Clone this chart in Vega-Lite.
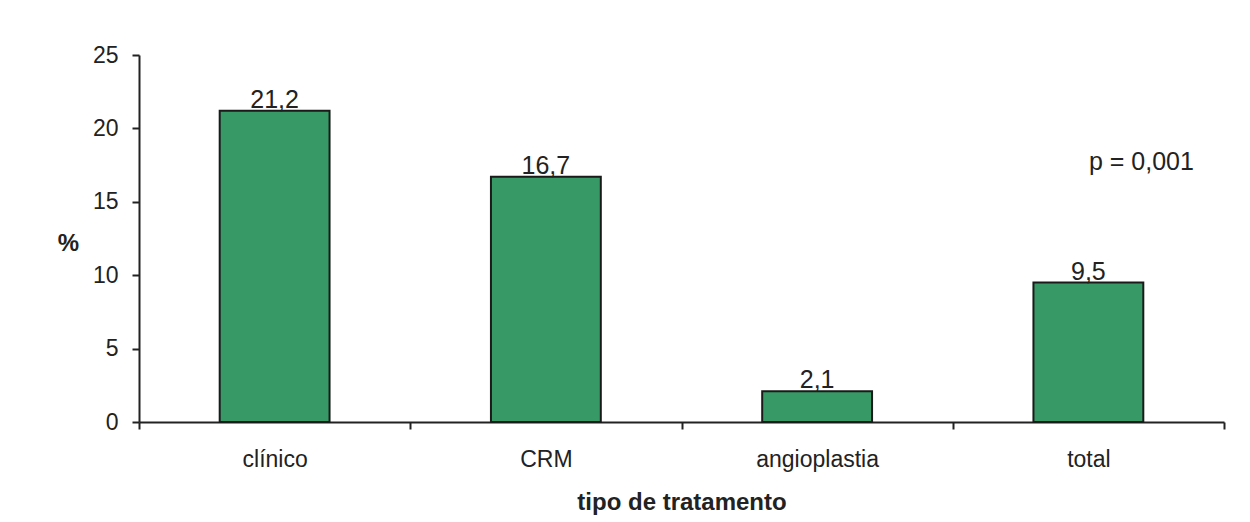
{
  "$schema": "https://vega.github.io/schema/vega-lite/v6.json",
  "autosize": "none",
  "width": 1085,
  "height": 367,
  "padding": {"left": 139, "top": 55, "right": 26, "bottom": 100},
  "background": "white",
  "config": {
    "view": {"stroke": null},
    "font": "Liberation Sans",
    "locale": {"number": {"decimal": ",", "thousands": ".", "grouping": [3], "currency": ["", ""]}}
  },
  "data": {"values": [
    {"tipo": "clínico", "pct": 21.2},
    {"tipo": "CRM", "pct": 16.7},
    {"tipo": "angioplastia", "pct": 2.1},
    {"tipo": "total", "pct": 9.5}
  ]},
  "encoding": {
    "x": {
      "field": "tipo", "type": "nominal", "sort": null,
      "scale": {"paddingInner": 0, "paddingOuter": 0},
      "axis": {
        "title": "tipo de tratamento",
        "labelAngle": 0,
        "labelFontSize": 23,
        "labelColor": "#222",
        "labelPadding": 19,
        "tickBand": "extent",
        "tickSize": 7,
        "tickWidth": 2,
        "tickColor": "#222",
        "domainColor": "#222",
        "domainWidth": 2,
        "titleFontSize": 24,
        "titleFontWeight": "bold",
        "titleColor": "#222",
        "titlePadding": 19,
        "grid": false
      }
    }
  },
  "layer": [
    {
      "mark": {"type": "bar", "fill": "#379a66", "stroke": "#1a1a1a", "strokeWidth": 2, "width": {"band": 0.405}},
      "encoding": {
        "y": {
          "field": "pct", "type": "quantitative",
          "scale": {"domain": [0, 25], "nice": false},
          "axis": {
            "title": "%",
            "titleAngle": 0,
            "titleX": -71,
            "titleY": 188,
            "titleAlign": "center",
            "titleBaseline": "middle",
            "titleFontSize": 24,
            "titleFontWeight": "bold",
            "titleColor": "#222",
            "values": [0, 5, 10, 15, 20, 25],
            "labelFontSize": 23,
            "labelColor": "#222",
            "labelPadding": 14,
            "tickSize": 7,
            "tickWidth": 2,
            "tickColor": "#222",
            "domainColor": "#222",
            "domainWidth": 2,
            "grid": false
          }
        }
      }
    },
    {
      "mark": {"type": "text", "fontSize": 25, "color": "#222", "baseline": "alphabetic", "dy": -3},
      "encoding": {
        "y": {"field": "pct", "type": "quantitative"},
        "text": {"field": "pct", "type": "quantitative", "format": ".1f"}
      }
    },
    {
      "data": {"values": [{"tipo": "total", "pct": 17.7, "nota": "p = 0,001"}]},
      "mark": {"type": "text", "fontSize": 25, "color": "#222", "baseline": "middle", "dx": 53},
      "encoding": {
        "y": {"field": "pct", "type": "quantitative"},
        "text": {"field": "nota", "type": "nominal"}
      }
    }
  ]
}
